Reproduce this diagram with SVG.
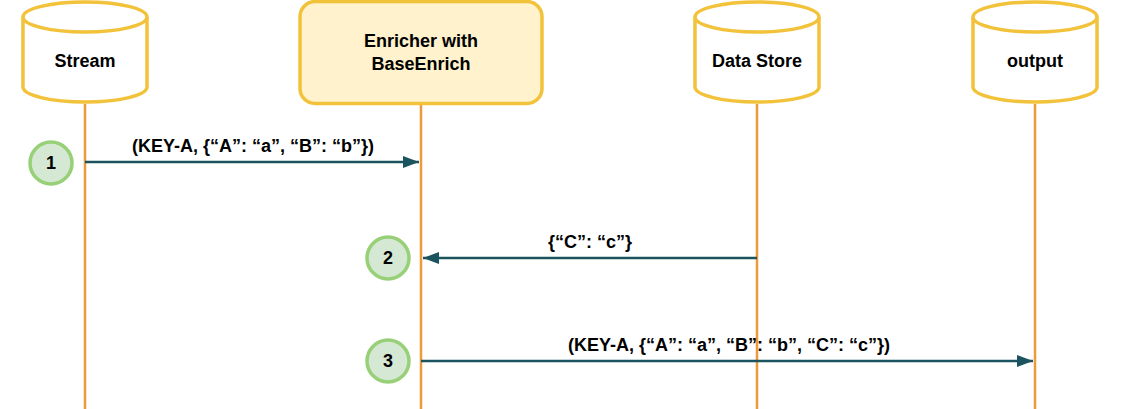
<svg xmlns="http://www.w3.org/2000/svg" width="1121" height="409" viewBox="0 0 1121 409">
<style>
.cyl{fill:#ffffff;stroke:#F2C23A;stroke-width:3.5}
.box{fill:#FFF2CC;stroke:#F2C23A;stroke-width:3.5}
.life{stroke:#EE9A3A;stroke-width:2.5;fill:none}
.msg{stroke:#1B535E;stroke-width:2.5;fill:none}
.step{fill:#D5E8D4;stroke:#97D077;stroke-width:3.5}
text{font-family:"Liberation Sans",Arial,sans-serif;font-weight:bold;font-size:18px;fill:#000;text-anchor:middle}
</style>
<defs>
<marker id="ah" viewBox="0 0 16 12" refX="16" refY="6" markerWidth="16" markerHeight="12" markerUnits="userSpaceOnUse" orient="auto">
<path d="M0,0 L16,6 L0,12 Z" fill="#1B535E"/>
</marker>
</defs>
<g id="lifelines">
<line class="life" x1="85" y1="104" x2="85" y2="409"/>
<line class="life" x1="421" y1="104" x2="421" y2="409"/>
<line class="life" x1="757" y1="104" x2="757" y2="409"/>
<line class="life" x1="1035" y1="104" x2="1035" y2="409"/>
</g>
<g id="stream">
<path class="cyl" d="M23,17 A62,15 0 0 1 147,17 L147,87 A62,15 0 0 1 23,87 Z"/>
<path class="cyl" style="fill:none" d="M23,17 A62,15 0 0 0 147,17"/>
<text x="85" y="67">Stream</text>
</g>
<g id="enricher">
<rect class="box" x="300" y="1.5" width="242" height="102" rx="15"/>
<text x="421" y="47">Enricher with</text>
<text x="421" y="70">BaseEnrich</text>
</g>
<g id="datastore">
<path class="cyl" d="M695,17 A62,15 0 0 1 819,17 L819,87 A62,15 0 0 1 695,87 Z"/>
<path class="cyl" style="fill:none" d="M695,17 A62,15 0 0 0 819,17"/>
<text x="757" y="67">Data Store</text>
</g>
<g id="output">
<path class="cyl" d="M973,17 A62,15 0 0 1 1097,17 L1097,87 A62,15 0 0 1 973,87 Z"/>
<path class="cyl" style="fill:none" d="M973,17 A62,15 0 0 0 1097,17"/>
<text x="1035" y="67">output</text>
</g>
<g id="connectors">
<line class="msg" x1="85" y1="162" x2="419" y2="162" marker-end="url(#ah)"/>
<text x="253" y="152">(KEY-A, {“A”: “a”, “B”: “b”})</text>
<line class="msg" x1="757" y1="258" x2="423" y2="258" marker-end="url(#ah)"/>
<text x="590" y="248">{“C”: “c”}</text>
<line class="msg" x1="421" y1="361" x2="1033" y2="361" marker-end="url(#ah)"/>
<text x="729" y="351">(KEY-A, {“A”: “a”, “B”: “b”, “C”: “c”})</text>
</g>
<g id="step1">
<circle class="step" cx="51" cy="163" r="21"/>
<text x="51" y="169">1</text>
</g>
<g id="step2">
<circle class="step" cx="388" cy="258" r="21"/>
<text x="388" y="264">2</text>
</g>
<g id="step3">
<circle class="step" cx="388" cy="361" r="21"/>
<text x="388" y="367">3</text>
</g>
</svg>
